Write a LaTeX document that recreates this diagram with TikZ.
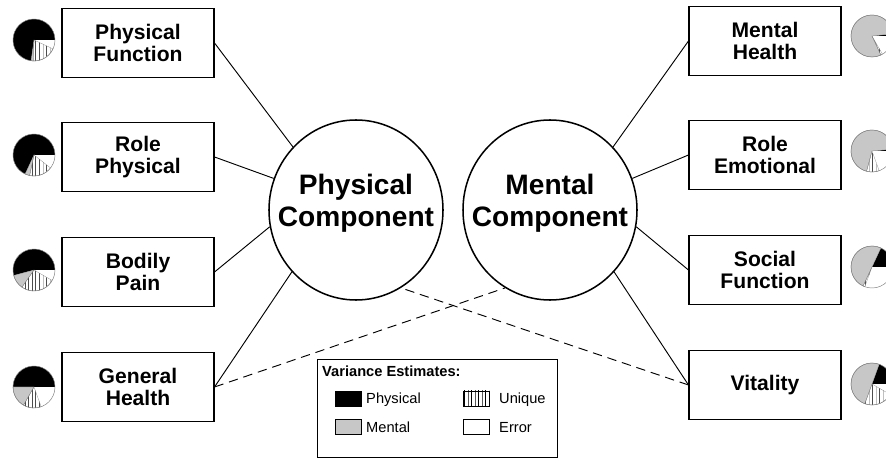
\documentclass[tikz,border=0pt]{standalone}
\usepackage{fontspec}
\setmainfont{Liberation Sans}
\usetikzlibrary{shapes.geometric,patterns}

\definecolor{mentalgray}{gray}{0.78}
\newcommand{\pier}{0.63cm}
% pie of variance estimates: centre, end of physical, end of mental, end of unique
\newcommand{\varpie}[4]{%
  \begin{scope}[shift={#1}]
    \fill[black] (0,0) -- (0:\pier) arc[start angle=0,end angle=#2,radius=\pier] -- cycle;
    \filldraw[fill=mentalgray,draw=gray,very thin] (0,0) -- (#2:\pier) arc[start angle=#2,end angle=#3,radius=\pier] -- cycle;
    \filldraw[pattern=vertical lines,pattern color=black!70,draw=gray,very thin] (0,0) -- (#3:\pier) arc[start angle=#3,end angle=#4,radius=\pier] -- cycle;
    \draw[gray,thin] (0,0) circle[radius=\pier];
  \end{scope}}

\tikzset{
  scale box/.style={draw,line width=0.9pt,minimum width=4.56cm,minimum height=2.07cm,
    align=center,font=\fontsize{18}{19}\selectfont\bfseries},
  component/.style={draw,ellipse,line width=1.3pt,minimum width=5.22cm,minimum height=5.4cm,
    inner xsep=-0.7cm,inner ysep=0pt,text depth=17pt,align=center,
    font=\fontsize{24}{27}\selectfont\bfseries},
  link/.style={line width=0.8pt},
  crosslink/.style={line width=0.8pt,dash pattern=on 8pt off 5pt},
  swatch/.style={draw,line width=0.7pt,minimum width=0.78cm,minimum height=0.45cm,inner sep=0pt},
  legendtext/.style={anchor=base west,inner sep=0pt,font=\fontsize{12.5}{14}\selectfont}
}

\begin{document}
\begin{tikzpicture}[x=0.03cm,y=0.03cm]
    \useasboundingbox (0,0) rectangle (886,-458);

    \node[scale box] (pf) at (138,-43) {Physical\\Function};
    \node[scale box] (rp) at (138,-157) {Role\\Physical};
    \node[scale box] (bp) at (138,-272) {Bodily\\Pain};
    \node[scale box] (gh) at (138,-387) {General\\Health};
    \node[scale box] (mh) at (765,-41) {Mental\\Health};
    \node[scale box] (re) at (765,-155) {Role\\Emotional};
    \node[scale box] (sf) at (765,-270) {Social\\Function};
    \node[scale box] (vi) at (765,-385) {Vitality};

    \node[component] (pc) at (356,-210) {Physical\\Component};
    \node[component] (mc) at (550,-210) {Mental\\Component};

    \draw[link] (pf.east) -- (pc.135);
    \draw[link] (rp.east) -- (pc.159);
    \draw[link] (bp.east) -- (pc.191);
    \draw[link] (gh.east) -- (pc.224);
    \draw[link] (mh.west) -- (mc.45);
    \draw[link] (re.west) -- (mc.21);
    \draw[link] (sf.west) -- (mc.349);
    \draw[link] (vi.west) -- (mc.316);
    \draw[crosslink] (gh.east) -- (mc.240);
    \draw[crosslink] (vi.west) -- (pc.300);

    \varpie{(34,-40)}{262}{268}{335}
    \varpie{(34,-155)}{245}{258}{322}
    \varpie{(34,-270)}{195}{235}{330}
    \varpie{(34,-387)}{180}{240}{290}
    \varpie{(872,-36)}{6}{295}{300}
    \varpie{(872,-151)}{5}{255}{290}
    \varpie{(872,-267)}{65}{245}{250}
    \varpie{(872,-384)}{70}{250}{330}

    % legend
    \node[draw,line width=0.8pt,minimum width=7.2cm,minimum height=2.94cm] (legend) at (437,-408) {};
    \node[legendtext,font=\fontsize{12.5}{14}\selectfont\bfseries] (vartitle) at (322,-377) {Variance Estimates:};
    \node[swatch,fill=black] (physw) at (348,-398.5) {};
    \node[swatch,fill=mentalgray] (mensw) at (348,-427) {};
    \node[swatch,pattern=vertical lines] (unisw) at (476,-398.5) {};
    \node[swatch] (errsw) at (476,-427) {};
    \node[legendtext] (phytext) at (366,-404) {Physical};
    \node[legendtext] (mentext) at (366,-433) {Mental};
    \node[legendtext] (unitext) at (499,-404) {Unique};
    \node[legendtext] (errtext) at (499,-433) {Error};
\end{tikzpicture}
\end{document}
